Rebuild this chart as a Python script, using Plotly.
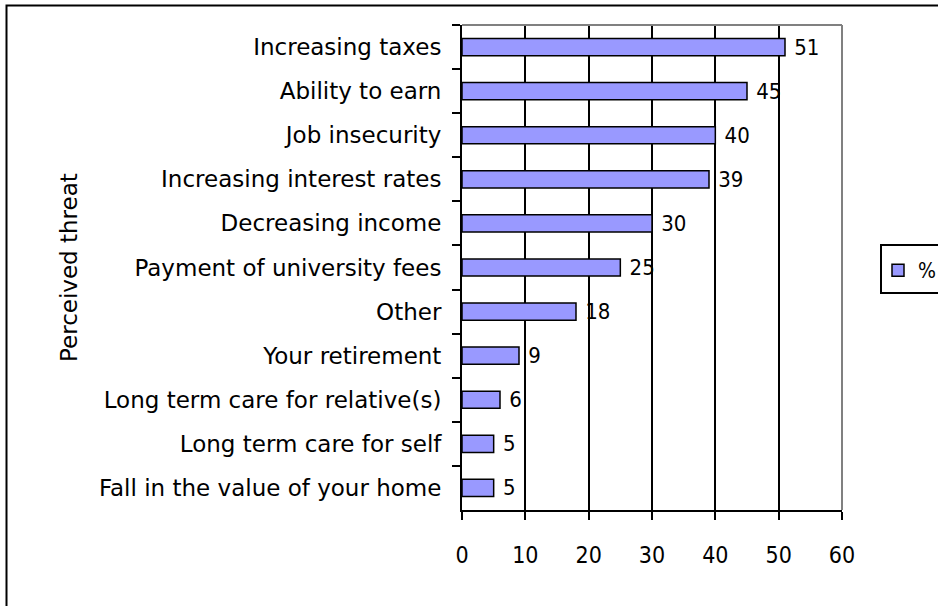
import plotly.graph_objects as go

# Survey results: share of respondents naming each perceived threat
threats = [
    "Increasing taxes",
    "Ability to earn",
    "Job insecurity",
    "Increasing interest rates",
    "Decreasing income",
    "Payment of university fees",
    "Other",
    "Your retirement",
    "Long term care for relative(s)",
    "Long term care for self",
    "Fall in the value of your home",
]
percent = [51, 45, 40, 39, 30, 25, 18, 9, 6, 5, 5]
x_ticks = [0, 10, 20, 30, 40, 50, 60]

FONT = "DejaVu Sans, sans-serif"
NUM_FONT = "DejaVu Sans Condensed, DejaVu Sans, sans-serif"
W, H = 938, 606
L, R, T, B = 462, 96, 25, 96
PW, PH = W - L - R, H - T - B


def px_x(px):
    return (px - L) / PW


def px_y(py):
    return (H - B - py) / PH


fig = go.Figure()
fig.add_trace(go.Bar(
    y=threats,
    x=percent,
    orientation="h",
    name="%",
    marker=dict(color="#9999FF", line=dict(color="black", width=1.5)),
    texttemplate="\u00a0%{x}",
    textposition="outside",
    constraintext="none",
    textfont=dict(family=NUM_FONT, size=22, color="black"),
    cliponaxis=False,
    hoverinfo="x+y",
))

fig.update_layout(
    width=W,
    height=H,
    margin=dict(l=L, r=R, t=T, b=B, autoexpand=False),
    paper_bgcolor="white",
    plot_bgcolor="white",
    font=dict(family=FONT, size=20, color="black"),
    bargap=0.61,
    showlegend=True,
    legend=dict(
        x=px_x(878), y=px_y(250), xanchor="left", yanchor="top",
        bgcolor="rgba(0,0,0,0)", borderwidth=0,
        font=dict(family=NUM_FONT, size=21, color="black"),
        itemwidth=30,
    ),
    xaxis=dict(
        range=[0, 60],
        tickvals=x_ticks,
        ticktext=[str(v) for v in x_ticks],
        showgrid=True, gridcolor="black", gridwidth=1.5,
        showline=True, linecolor="black", linewidth=2,
        ticks="outside", ticklen=8, tickwidth=2, tickcolor="black",
        ticklabelstandoff=15,
        zeroline=False,
        tickfont=dict(family=NUM_FONT, size=23, color="black"),
    ),
    yaxis=dict(
        autorange="reversed",
        showgrid=False,
        showline=True, linecolor="black", linewidth=2,
        ticks="outside", ticklen=8, tickwidth=2, tickcolor="black",
        tickson="boundaries",
        ticklabelstandoff=14,
        tickfont=dict(family=FONT, size=23, color="black"),
    ),
    annotations=[dict(
        text="Perceived threat",
        xref="paper", yref="paper",
        x=px_x(54), y=px_y(268),
        textangle=-90, showarrow=False,
        font=dict(family=FONT, size=23, color="black"),
    )],
    shapes=[
        # plot-area frame (top and right edges)
        dict(type="line", xref="paper", yref="paper", x0=0, x1=1, y0=1, y1=1,
             line=dict(color="#808080", width=2), layer="above"),
        dict(type="line", xref="paper", yref="paper", x0=1, x1=1, y0=0, y1=1,
             line=dict(color="#808080", width=2), layer="above"),
        # legend frame
        dict(type="rect", xref="paper", yref="paper",
             x0=px_x(881), x1=px_x(960), y0=px_y(293), y1=px_y(245),
             line=dict(color="black", width=2), fillcolor="rgba(0,0,0,0)",
             layer="above"),
        # chart frame
        dict(type="rect", xref="paper", yref="paper",
             x0=px_x(6.5), x1=px_x(960), y0=px_y(630), y1=px_y(5.5),
             line=dict(color="black", width=2), fillcolor="rgba(0,0,0,0)",
             layer="above"),
    ],
)

fig.write_html("out.html")
